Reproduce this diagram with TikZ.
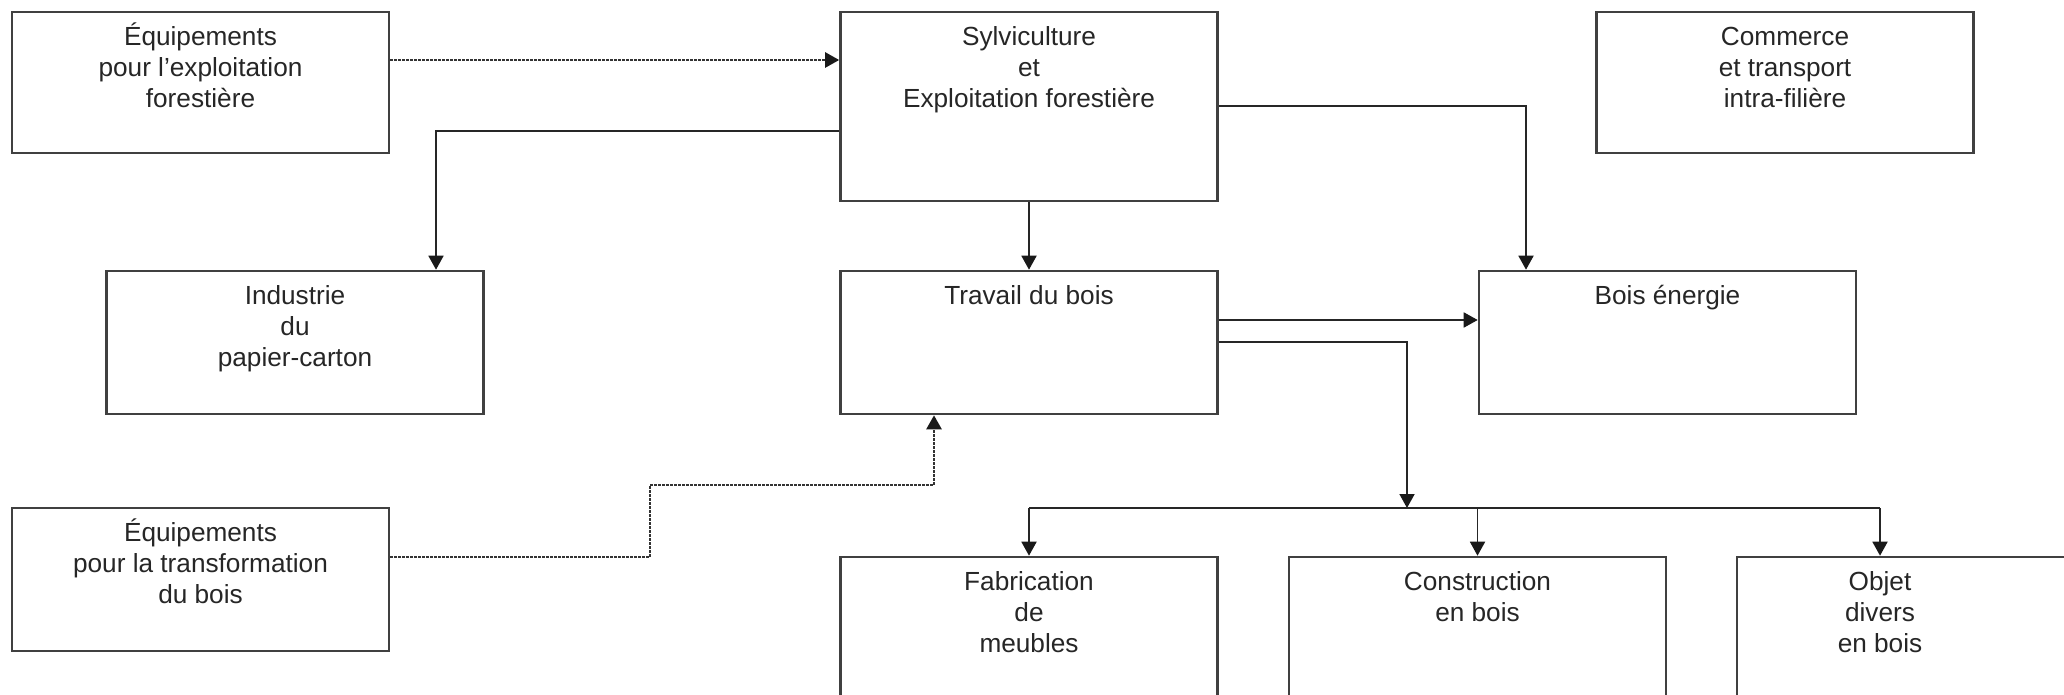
\documentclass[tikz,border=0pt]{standalone}
\usepackage{fontspec}
\setmainfont{Liberation Sans}
\usetikzlibrary{arrows.meta}
\begin{document}
\begin{tikzpicture}[x=0.5pt,y=-0.5pt,
  box/.style={draw=black!75, line width=1.3pt, minimum width=188.5pt, inner sep=0pt},
  lbl/.style={anchor=north, inner sep=0pt, align=center, text=black!85, font=\fontsize{13.1}{15.3}\selectfont},
  tip/.style={-{Triangle[length=7pt,width=7.5pt,color=black!90]}},
  conn/.style={draw=black!85, line width=0.9pt},
  arr/.style={conn, tip},
  dots/.style={draw=black!80, line width=1.2pt, dash pattern=on 1.5pt off 0.5pt, tip}
]
\clip (0,0) rectangle (2064,695);
\fill[white] (0,0) rectangle (2064,695);

% boxes
\node[box, minimum height=70.5pt] (A) at (200.5,82.5) {};
\node[lbl, yshift=-5pt] (tA) at (A.north) {\rule{0pt}{0.95em}Équipements\\pour l’exploitation\\forestière};

\node[box, minimum height=94.5pt] (S) at (1029,106.5) {};
\node[lbl, yshift=-5pt] (tS) at (S.north) {\rule{0pt}{0.95em}Sylviculture\\et\\Exploitation forestière};

\node[box, minimum height=70.5pt] (C) at (1785,82.5) {};
\node[lbl, yshift=-5pt] (tC) at (C.north) {\rule{0pt}{0.95em}Commerce\\et transport\\intra-filière};

\node[box, minimum height=71.5pt] (I) at (295,342.5) {};
\node[lbl, yshift=-5pt] (tI) at (I.north) {\rule{0pt}{0.95em}Industrie\\du\\papier-carton};

\node[box, minimum height=71.5pt] (T) at (1029,342.5) {};
\node[lbl, yshift=-5pt] (tT) at (T.north) {\rule{0pt}{0.95em}Travail du bois};

\node[box, minimum height=71.5pt] (B) at (1667.5,342.5) {};
\node[lbl, yshift=-5pt] (tB) at (B.north) {\rule{0pt}{0.95em}Bois énergie};

\node[box, minimum height=71.5pt] (E) at (200.5,579.5) {};
\node[lbl, yshift=-5pt] (tE) at (E.north) {\rule{0pt}{0.95em}Équipements\\pour la transformation\\du bois};

\node[box, minimum height=76.5pt] (F) at (1029,633.5) {};
\node[lbl, yshift=-5pt] (tF) at (F.north) {\rule{0pt}{0.95em}Fabrication\\de\\meubles};

\node[box, minimum height=76.5pt] (Co) at (1477.5,633.5) {};
\node[lbl, yshift=-5pt] (tCo) at (Co.north) {\rule{0pt}{0.95em}Construction\\en bois};

\coordinate (oc) at (1880,508);
\node[box, minimum height=76.5pt] (O) at (1925.5,633.5) {};
\node[lbl, yshift=-5pt] (tO) at (oc |- O.north) {\rule{0pt}{0.95em}Objet\\divers\\en bois};

% connectors
\coordinate (kA) at (0,60);
\draw[dots] (A.east |- kA) -- (S.west |- kA);

\coordinate (kI) at (436,131);
\draw[arr] (S.west |- kI) -| (kI |- I.north);

\coordinate (kB) at (1526,106);
\draw[arr] (S.east |- kB) -| (kB |- B.north);

\draw[arr] (S.south) -- (T.north);

\coordinate (kE) at (0,320);
\draw[arr] (T.east |- kE) -- (B.west |- kE);

\coordinate (bus) at (1407,508);
\coordinate (kT) at (0,342);
\draw[arr] (T.east |- kT) -| (bus);

\draw[conn] (F.north |- bus) -- (oc);
\draw[arr] (F.north |- bus) -- (F.north);
\draw[arr] (Co.north |- bus) -- (Co.north);
\draw[arr] (oc) -- (oc |- O.north);

\coordinate (d1) at (650,557);
\coordinate (d2) at (650,485);
\coordinate (d3) at (934,485);
\draw[dots] (E.east |- d1) -- (d1) -- (d2) -- (d3) -- (d3 |- T.south);
\end{tikzpicture}
\end{document}
